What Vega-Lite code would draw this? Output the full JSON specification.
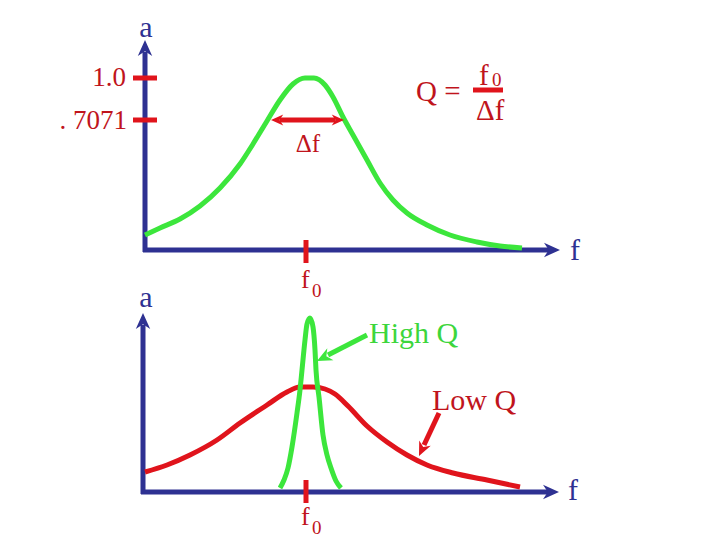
{
  "$schema": "https://vega.github.io/schema/vega-lite/v6.json",
  "width": 720,
  "height": 540,
  "padding": 0,
  "autosize": {"type": "fit", "contains": "padding"},
  "config": {"view": {"stroke": null}, "text": {"font": "Liberation Serif"}},
  "background": "white",
  "datasets": {
    "curves": [
      {"series": "top", "i": 1, "x": 145, "y": 235},
      {"series": "top", "i": 2, "x": 160, "y": 228},
      {"series": "top", "i": 3, "x": 180, "y": 219},
      {"series": "top", "i": 4, "x": 200, "y": 206},
      {"series": "top", "i": 5, "x": 220, "y": 188},
      {"series": "top", "i": 6, "x": 240, "y": 164},
      {"series": "top", "i": 7, "x": 253, "y": 144},
      {"series": "top", "i": 8, "x": 267, "y": 121},
      {"series": "top", "i": 9, "x": 280, "y": 100},
      {"series": "top", "i": 10, "x": 293, "y": 84},
      {"series": "top", "i": 11, "x": 305, "y": 78},
      {"series": "top", "i": 12, "x": 314, "y": 78},
      {"series": "top", "i": 13, "x": 325, "y": 85},
      {"series": "top", "i": 14, "x": 333, "y": 97},
      {"series": "top", "i": 15, "x": 343, "y": 117},
      {"series": "top", "i": 16, "x": 353, "y": 135},
      {"series": "top", "i": 17, "x": 367, "y": 160},
      {"series": "top", "i": 18, "x": 380, "y": 183},
      {"series": "top", "i": 19, "x": 393, "y": 200},
      {"series": "top", "i": 20, "x": 407, "y": 213},
      {"series": "top", "i": 21, "x": 427, "y": 225},
      {"series": "top", "i": 22, "x": 450, "y": 235},
      {"series": "top", "i": 23, "x": 477, "y": 242},
      {"series": "top", "i": 24, "x": 500, "y": 246},
      {"series": "top", "i": 25, "x": 522, "y": 248},
      {"series": "low", "i": 1, "x": 145, "y": 472},
      {"series": "low", "i": 2, "x": 167, "y": 465},
      {"series": "low", "i": 3, "x": 190, "y": 455},
      {"series": "low", "i": 4, "x": 217, "y": 440},
      {"series": "low", "i": 5, "x": 240, "y": 423},
      {"series": "low", "i": 6, "x": 267, "y": 405},
      {"series": "low", "i": 7, "x": 287, "y": 392},
      {"series": "low", "i": 8, "x": 300, "y": 387},
      {"series": "low", "i": 9, "x": 313, "y": 387},
      {"series": "low", "i": 10, "x": 325, "y": 389},
      {"series": "low", "i": 11, "x": 335, "y": 394},
      {"series": "low", "i": 12, "x": 348, "y": 406},
      {"series": "low", "i": 13, "x": 367, "y": 426},
      {"series": "low", "i": 14, "x": 387, "y": 442},
      {"series": "low", "i": 15, "x": 407, "y": 455},
      {"series": "low", "i": 16, "x": 427, "y": 465},
      {"series": "low", "i": 17, "x": 453, "y": 473},
      {"series": "low", "i": 18, "x": 487, "y": 480},
      {"series": "low", "i": 19, "x": 520, "y": 487},
      {"series": "high", "i": 1, "x": 280, "y": 488},
      {"series": "high", "i": 2, "x": 284, "y": 480},
      {"series": "high", "i": 3, "x": 288, "y": 468},
      {"series": "high", "i": 4, "x": 292, "y": 447},
      {"series": "high", "i": 5, "x": 297, "y": 413},
      {"series": "high", "i": 6, "x": 300, "y": 390},
      {"series": "high", "i": 7, "x": 302, "y": 370},
      {"series": "high", "i": 8, "x": 305, "y": 340},
      {"series": "high", "i": 9, "x": 307, "y": 324},
      {"series": "high", "i": 10, "x": 310, "y": 318},
      {"series": "high", "i": 11, "x": 313, "y": 327},
      {"series": "high", "i": 12, "x": 315, "y": 350},
      {"series": "high", "i": 13, "x": 316, "y": 370},
      {"series": "high", "i": 14, "x": 319, "y": 397},
      {"series": "high", "i": 15, "x": 323, "y": 435},
      {"series": "high", "i": 16, "x": 327, "y": 455},
      {"series": "high", "i": 17, "x": 331, "y": 468},
      {"series": "high", "i": 18, "x": 336, "y": 481},
      {"series": "high", "i": 19, "x": 341, "y": 488}
    ],
    "rules": [
      {"kind": "axis", "x": 145, "y": 252, "x2": 145, "y2": 52},
      {"kind": "axis", "x": 143, "y": 250, "x2": 549, "y2": 250},
      {"kind": "axis", "x": 143, "y": 494, "x2": 143, "y2": 325},
      {"kind": "axis", "x": 141, "y": 492, "x2": 548, "y2": 492},
      {"kind": "mark", "x": 133, "y": 78, "x2": 157, "y2": 78},
      {"kind": "mark", "x": 133, "y": 120, "x2": 157, "y2": 120},
      {"kind": "mark", "x": 306, "y": 240, "x2": 306, "y2": 263},
      {"kind": "mark", "x": 306, "y": 480, "x2": 306, "y2": 503},
      {"kind": "mark", "x": 473, "y": 90, "x2": 503, "y2": 90},
      {"kind": "mark", "x": 280, "y": 120, "x2": 335, "y2": 120},
      {"kind": "mark", "x": 439, "y": 413, "x2": 424, "y2": 445},
      {"kind": "pointer", "x": 367, "y": 335, "x2": 328, "y2": 355}
    ],
    "heads": [
      {"dir": "axisUp", "x": 145, "y": 40},
      {"dir": "axisUp", "x": 143, "y": 313},
      {"dir": "axisRight", "x": 560, "y": 250},
      {"dir": "axisRight", "x": 559, "y": 492},
      {"dir": "left", "x": 271, "y": 120},
      {"dir": "right", "x": 344, "y": 120},
      {"dir": "lowQ", "x": 419, "y": 456},
      {"dir": "highQ", "x": 317, "y": 361}
    ],
    "labels": [
      {"role": "axisName", "label": "a", "x": 146, "y": 37},
      {"role": "axisName", "label": "a", "x": 146, "y": 307},
      {"role": "axisVar", "label": "f", "x": 570, "y": 260},
      {"role": "axisVar", "label": "f", "x": 568, "y": 500},
      {"role": "tick", "label": "1.0", "x": 126, "y": 86},
      {"role": "tick", "label": ". 7071", "x": 127, "y": 129},
      {"role": "f0", "label": "f", "x": 301, "y": 288},
      {"role": "f0", "label": "f", "x": 301, "y": 525},
      {"role": "sub", "label": "0", "x": 312, "y": 297},
      {"role": "sub", "label": "0", "x": 312, "y": 534},
      {"role": "bw", "label": "Δf", "x": 308, "y": 152},
      {"role": "formula", "label": "Q =", "x": 416, "y": 101},
      {"role": "num", "label": "f", "x": 479, "y": 85},
      {"role": "numsub", "label": "0", "x": 492, "y": 86},
      {"role": "den", "label": "Δf", "x": 476, "y": 120},
      {"role": "high", "label": "High Q", "x": 369, "y": 343},
      {"role": "low", "label": "Low Q", "x": 432, "y": 410}
    ]
  },
  "encoding": {
    "x": {"field": "x", "type": "quantitative", "scale": {"domain": [0, 720], "nice": false, "zero": false}, "axis": null},
    "y": {"field": "y", "type": "quantitative", "scale": {"domain": [0, 540], "nice": false, "zero": false, "reverse": true}, "axis": null}
  },
  "layer": [
    {
      "data": {"name": "rules"},
      "transform": [{"filter": "datum.kind === 'axis'"}],
      "mark": {"type": "rule", "color": "#2E3192", "strokeWidth": 5},
      "encoding": {"x2": {"field": "x2"}, "y2": {"field": "y2"}}
    },
    {
      "data": {"name": "curves"},
      "transform": [{"filter": "datum.series === 'top'"}],
      "mark": {"type": "line", "color": "#3CE63C", "strokeWidth": 5, "interpolate": "monotone"},
      "encoding": {"order": {"field": "i", "type": "quantitative"}}
    },
    {
      "data": {"name": "curves"},
      "transform": [{"filter": "datum.series === 'low'"}],
      "mark": {"type": "line", "color": "#E0141C", "strokeWidth": 5, "interpolate": "monotone"},
      "encoding": {"order": {"field": "i", "type": "quantitative"}}
    },
    {
      "data": {"name": "curves"},
      "transform": [{"filter": "datum.series === 'high'"}],
      "mark": {"type": "line", "color": "#3CE63C", "strokeWidth": 5, "interpolate": "monotone"},
      "encoding": {"order": {"field": "i", "type": "quantitative"}}
    },
    {
      "data": {"name": "rules"},
      "transform": [{"filter": "datum.kind === 'mark'"}],
      "mark": {"type": "rule", "color": "#E0141C", "strokeWidth": 5},
      "encoding": {"x2": {"field": "x2"}, "y2": {"field": "y2"}}
    },
    {
      "data": {"name": "rules"},
      "transform": [{"filter": "datum.kind === 'pointer'"}],
      "mark": {"type": "rule", "color": "#3CE63C", "strokeWidth": 5},
      "encoding": {"x2": {"field": "x2"}, "y2": {"field": "y2"}}
    },
    {
      "data": {"name": "heads"},
      "transform": [{"filter": "datum.dir === 'axisUp'"}],
      "mark": {"type": "point", "shape": "M0,0L0.9,2L0,1.4L-0.9,2Z", "size": 256, "filled": true, "color": "#2E3192", "opacity": 1, "angle": 0}
    },
    {
      "data": {"name": "heads"},
      "transform": [{"filter": "datum.dir === 'axisRight'"}],
      "mark": {"type": "point", "shape": "M0,0L0.9,2L0,1.4L-0.9,2Z", "size": 256, "filled": true, "color": "#2E3192", "opacity": 1, "angle": 90}
    },
    {
      "data": {"name": "heads"},
      "transform": [{"filter": "datum.dir === 'left'"}],
      "mark": {"type": "point", "shape": "M0,0L0.9,2L0,1.4L-0.9,2Z", "size": 150, "filled": true, "color": "#E0141C", "opacity": 1, "angle": 270}
    },
    {
      "data": {"name": "heads"},
      "transform": [{"filter": "datum.dir === 'right'"}],
      "mark": {"type": "point", "shape": "M0,0L0.9,2L0,1.4L-0.9,2Z", "size": 150, "filled": true, "color": "#E0141C", "opacity": 1, "angle": 90}
    },
    {
      "data": {"name": "heads"},
      "transform": [{"filter": "datum.dir === 'lowQ'"}],
      "mark": {"type": "point", "shape": "M0,0L0.9,2L0,1.4L-0.9,2Z", "size": 200, "filled": true, "color": "#E0141C", "opacity": 1, "angle": 205}
    },
    {
      "data": {"name": "heads"},
      "transform": [{"filter": "datum.dir === 'highQ'"}],
      "mark": {"type": "point", "shape": "M0,0L0.9,2L0,1.4L-0.9,2Z", "size": 225, "filled": true, "color": "#3CE63C", "opacity": 1, "angle": 243}
    },
    {
      "data": {"name": "labels"},
      "transform": [{"filter": "datum.role === 'axisName'"}],
      "mark": {"type": "text", "fontSize": 30, "color": "#2E3192", "align": "center", "baseline": "alphabetic"},
      "encoding": {"text": {"field": "label"}}
    },
    {
      "data": {"name": "labels"},
      "transform": [{"filter": "datum.role === 'axisVar'"}],
      "mark": {"type": "text", "fontSize": 30, "color": "#2E3192", "align": "left", "baseline": "alphabetic"},
      "encoding": {"text": {"field": "label"}}
    },
    {
      "data": {"name": "labels"},
      "transform": [{"filter": "datum.role === 'tick'"}],
      "mark": {"type": "text", "fontSize": 27, "color": "#C0141C", "align": "right", "baseline": "alphabetic"},
      "encoding": {"text": {"field": "label"}}
    },
    {
      "data": {"name": "labels"},
      "transform": [{"filter": "datum.role === 'f0'"}],
      "mark": {"type": "text", "fontSize": 26, "color": "#C0141C", "align": "left", "baseline": "alphabetic"},
      "encoding": {"text": {"field": "label"}}
    },
    {
      "data": {"name": "labels"},
      "transform": [{"filter": "datum.role === 'sub' || datum.role === 'numsub'"}],
      "mark": {"type": "text", "fontSize": 19, "color": "#C0141C", "align": "left", "baseline": "alphabetic"},
      "encoding": {"text": {"field": "label"}}
    },
    {
      "data": {"name": "labels"},
      "transform": [{"filter": "datum.role === 'bw'"}],
      "mark": {"type": "text", "fontSize": 25, "color": "#C0141C", "align": "center", "baseline": "alphabetic"},
      "encoding": {"text": {"field": "label"}}
    },
    {
      "data": {"name": "labels"},
      "transform": [{"filter": "datum.role === 'formula' || datum.role === 'num' || datum.role === 'den'"}],
      "mark": {"type": "text", "fontSize": 29, "color": "#C0141C", "align": "left", "baseline": "alphabetic"},
      "encoding": {"text": {"field": "label"}}
    },
    {
      "data": {"name": "labels"},
      "transform": [{"filter": "datum.role === 'high'"}],
      "mark": {"type": "text", "fontSize": 30, "color": "#3CD63C", "align": "left", "baseline": "alphabetic"},
      "encoding": {"text": {"field": "label"}}
    },
    {
      "data": {"name": "labels"},
      "transform": [{"filter": "datum.role === 'low'"}],
      "mark": {"type": "text", "fontSize": 30, "color": "#C0141C", "align": "left", "baseline": "alphabetic"},
      "encoding": {"text": {"field": "label"}}
    }
  ]
}
